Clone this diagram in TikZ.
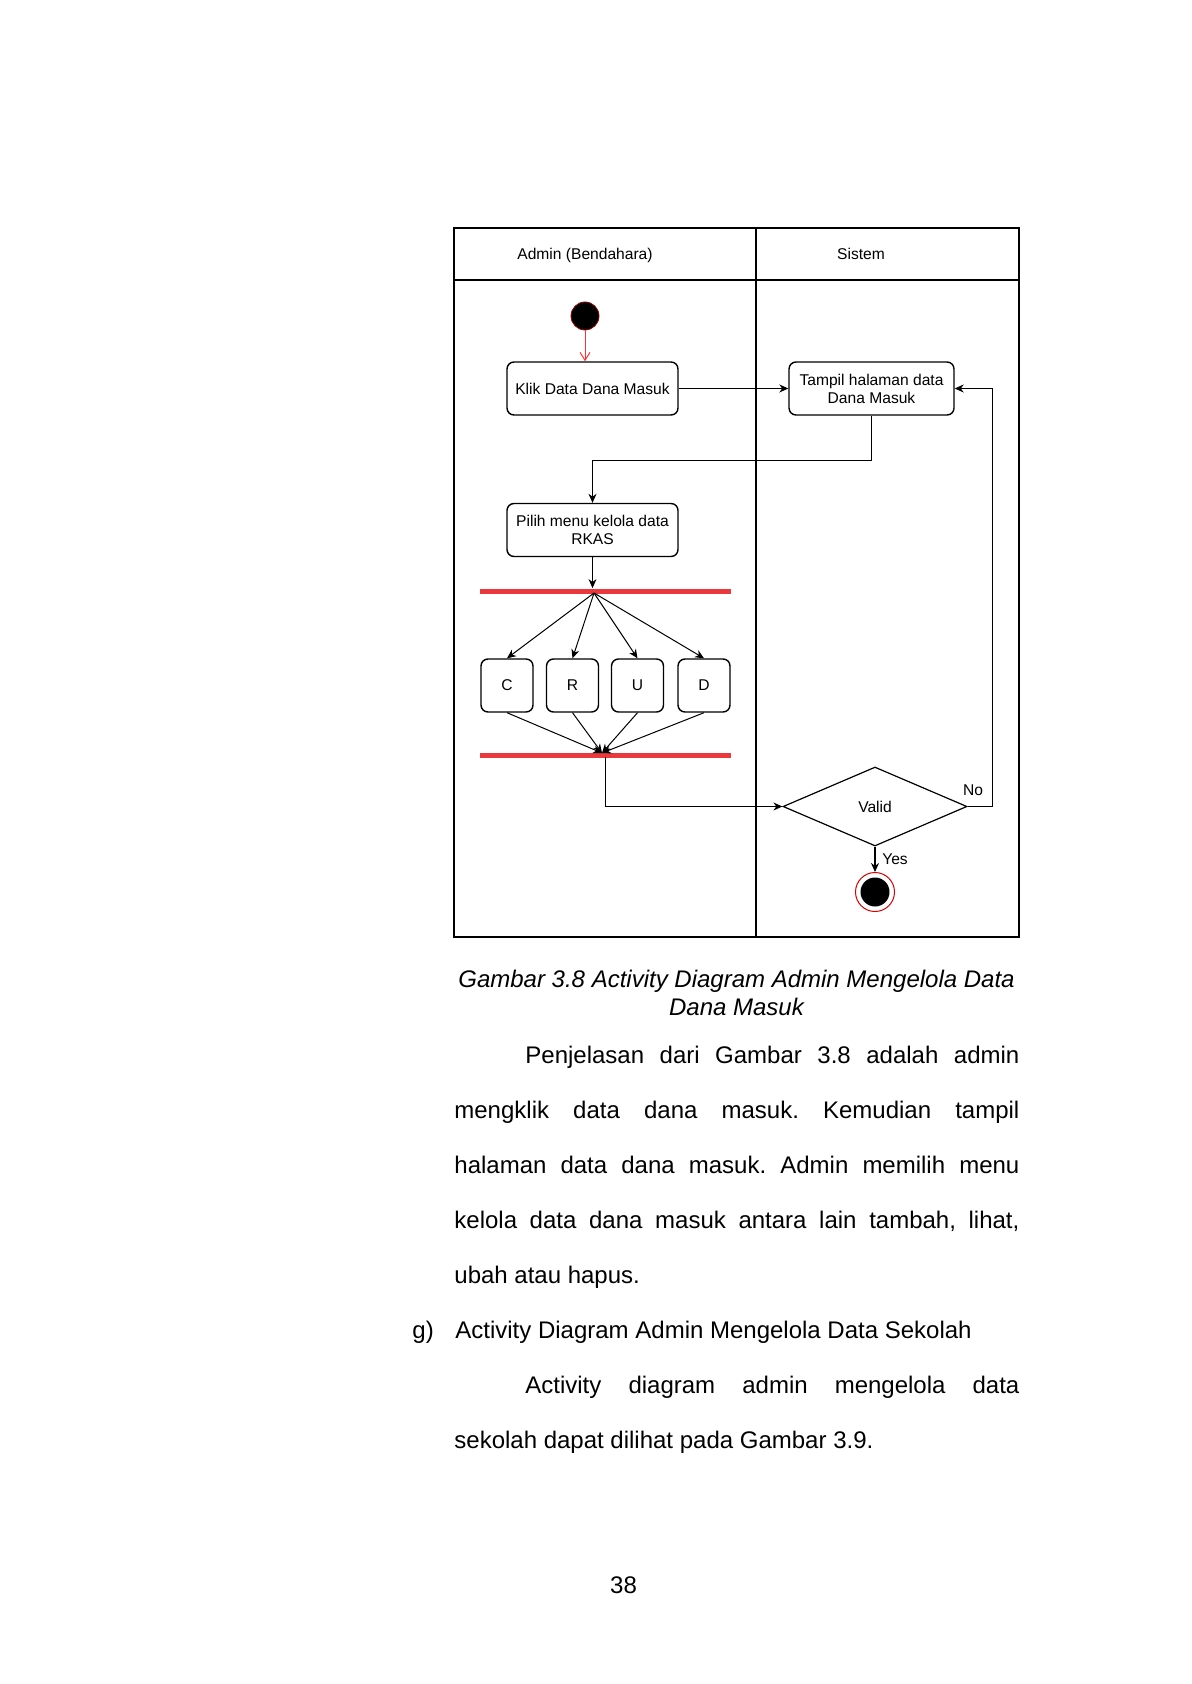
\documentclass[tikz,border=0pt]{standalone}
\usepackage{fontspec}
\setmainfont{Liberation Sans}
\usetikzlibrary{positioning,shapes.geometric,arrows.meta}

\definecolor{barred}{RGB}{234,56,60}
\newcommand{\diagfont}{\fontsize{7.8}{9}\selectfont}
\newcommand{\bodyfont}{\fontsize{12}{14}\selectfont}
\frenchspacing

\tikzset{
  lane/.style={line width=0.7pt},
  activity/.style={draw, line width=0.7pt, rounded corners=3.5pt, minimum width=85.5pt,
    minimum height=26.5pt, align=center, inner sep=1pt, font=\diagfont},
  crud/.style={activity, minimum width=26pt},
  syncbar/.style={fill=barred, inner sep=0pt, minimum width=125.5pt, minimum height=2.5pt},
  decision/.style={draw, diamond, line width=0.6pt, inner sep=0pt, minimum width=92pt,
    minimum height=39.5pt, aspect=2.3, font=\diagfont},
  initial/.style={circle, fill=black, draw=red!60!black, line width=0.4pt, minimum size=14pt, inner sep=0pt},
  final/.style={circle, draw=red!85!black, line width=0.5pt, minimum size=19.5pt, inner sep=0pt,
    path picture={\fill (path picture bounding box.center) circle (7.25pt);}},
  flow/.style={-{Stealth[length=4.5pt,width=4pt]}, line width=0.5pt},
  startflow/.style={-{Straight Barb[length=4pt,width=5pt]}, draw=red!80, line width=0.5pt},
  yesflow/.style={-{Stealth[length=4.5pt,width=4pt]}, line width=1pt},
  tag/.style={font=\diagfont, inner sep=0pt},
  bodytext/.style={anchor=base west, inner sep=0pt, font=\bodyfont},
  caption/.style={anchor=base, inner sep=0pt, font=\bodyfont\itshape}
}

\begin{document}
\begin{tikzpicture}[x=0.5pt, y=-0.5pt]
\useasboundingbox (0,0) rectangle (1191,1684);

% Swimlanes
\draw[lane] (454,228) rectangle (1019,937);
\draw[lane] (756,228) -- (756,937);
\draw[lane] (454,280) -- (1019,280);
\node[tag, anchor=base] (laneadmin) at (585,260) {Admin (Bendahara)};
\node[tag, anchor=base] (lanesistem) at (861,260) {Sistem};

% Activities
\node[initial] (start) at (585,316) {};
\node[activity] (klik) at (592.5,388.5) {Klik Data Dana Masuk};
\node[activity, minimum width=82.5pt] (tampil) at (871.5,388.5) {Tampil halaman data\\Dana Masuk};
\node[activity] (pilih) at (592.5,530) {Pilih menu kelola data\\RKAS};

% Fork and join bars
\node[syncbar] (fork) at (605.5,591) {};
\node[syncbar] (join) at (605.5,755) {};
\coordinate (forkpt) at (594,593);
\coordinate (joinpt) at (602,753);
\coordinate (joinout) at (605,757);

% C R U D boxes
\foreach \name/\x in {C/507, R/572.5, U/637.5, D/704} {
    \node[crud] (\name) at (\x,685.5) {\name};
    \draw[flow] (forkpt) -- (\name.north);
    \draw[flow] (\name.south) -- (joinpt);
}

\node[decision] (valid) at (875,806.5) {Valid};
\node[final] (finish) at (875,892) {};
\node[tag] (nolabel) at (973,790) {No};
\node[tag] (yeslabel) at (895,859) {Yes};

% Connectors
\draw[startflow] (start) -- (start |- klik.north);
\draw[flow] (klik.east) -- (tampil.west);
\draw[flow] (tampil.south) -- ++(0,45) -| (pilih.north);
\draw[flow] (pilih.south) -- (pilih.south |- fork.north);
\draw[flow] (joinout) |- (valid.west);
\draw[flow] (valid.east) -- ++(25,0) |- (tampil.east);
\draw[yesflow] (valid.south) -- (finish.north);

% Caption
\node[caption] (cap1) at (736.5,987) {Gambar 3.8 Activity Diagram Admin Mengelola Data};
\node[caption] (cap2) at (736.5,1015) {Dana Masuk};

% Justified body lines
\foreach \ypos/\xpos/\linewd/\txt in {
    1063/525/247/{Penjelasan dari Gambar 3.8 adalah admin},
    1118/454/282.5/{mengklik data dana masuk. Kemudian tampil},
    1173/454/282.5/{halaman data dana masuk. Admin memilih menu},
    1228/454/282.5/{kelola data dana masuk antara lain tambah, lihat,},
    1393/525/247/{Activity diagram admin mengelola data}} {
    \node[bodytext] (line\ypos) at (\xpos,\ypos) {\makebox[\linewd pt][s]{\txt}};
}
\node[bodytext] (line1283) at (454,1283) {ubah atau hapus.};
\node[bodytext] (itemg) at (412,1338) {g)};
\node[bodytext] (line1338) at (455,1338) {Activity Diagram Admin Mengelola Data Sekolah};
\node[bodytext] (line1448) at (454,1448) {sekolah dapat dilihat pada Gambar 3.9.};

% Page number
\node[caption, font=\bodyfont] (pagenum) at (623.5,1593) {38};

\end{tikzpicture}
\end{document}
